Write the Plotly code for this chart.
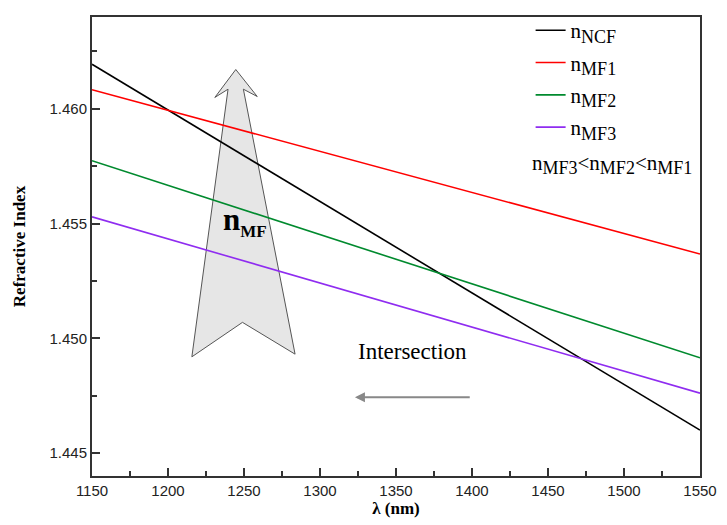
import plotly.graph_objects as go

# ---- data ----
wavelength = [1150, 1550]
n_ncf = [1.46194, 1.44600]
n_mf1 = [1.46083, 1.45367]
n_mf2 = [1.45774, 1.44915]
n_mf3 = [1.45529, 1.44761]
series_labels = ["NCF", "MF1", "MF2", "MF3"]
series_colors = ["#000000", "#ff0000", "#008a2e", "#8f2cf0"]
x_ticks = [1150, 1200, 1250, 1300, 1350, 1400, 1450, 1500, 1550]
y_ticks = [1.445, 1.450, 1.455, 1.460]


def nsub(label, size=18):
    return f"n<sub><span style='font-size:{size}px'>{label}</span></sub>"


fig = go.Figure()
for lab, vals, col in zip(series_labels, [n_ncf, n_mf1, n_mf2, n_mf3], series_colors):
    fig.add_trace(go.Scatter(x=wavelength, y=vals, mode="lines", name=nsub(lab),
                             legendgroup=lab,
                             line=dict(color=col, width=1.6)))

# big block arrow (decoration)
arrow_pts = [(1244.6, 1.461712), (1258.7, 1.460536), (1249.6, 1.460854),
             (1283.6, 1.449309), (1249.0, 1.450695), (1215.7, 1.449193),
             (1239.5, 1.460854), (1230.8, 1.460494)]
path = "M " + " L ".join(f"{x},{y}" for x, y in arrow_pts) + " Z"
fig.add_shape(type="path", path=path, xref="x", yref="y", layer="below",
              fillcolor="#e6e6e6", line=dict(color="#555555", width=1))

fig.add_annotation(x=1250.9, y=1.455073, xref="x", yref="y", showarrow=False,
                   text="<b>n<sub><span style='font-size:17px'>MF</span></sub></b>",
                   font=dict(family="Liberation Serif", size=31, color="#000"))

fig.add_annotation(x=1361.1, y=1.449408, xref="x", yref="y", showarrow=False,
                   text="Intersection",
                   font=dict(family="Liberation Serif", size=23, color="#000"))

fig.add_annotation(x=1323.0, y=1.447434, ax=1399.5, ay=1.447434,
                   xref="x", yref="y", axref="x", ayref="y", text="",
                   showarrow=True, arrowhead=2, arrowsize=1, arrowwidth=2,
                   arrowcolor="#888888")

fig.add_annotation(x=0.7198, y=0.678, xref="paper", yref="paper", xanchor="left",
                   yanchor="middle", showarrow=False,
                   text=nsub("MF3") + "&lt;" + nsub("MF2") + "&lt;" + nsub("MF1"),
                   font=dict(family="Liberation Serif", size=21, color="#000"))

axis_common = dict(showline=True, linecolor="#333333", linewidth=2, mirror=True,
                   ticks="inside", ticklen=8, tickwidth=1.5, tickcolor="#333333",
                   showgrid=False, zeroline=False,
                   tickfont=dict(family="Liberation Sans", size=15, color="#222"))

fig.update_layout(
    width=727, height=525,
    margin=dict(l=91.5, r=19.3, t=10, b=49),
    paper_bgcolor="white", plot_bgcolor="white",
    showlegend=True,
    legend=dict(x=0.7214, y=1.015, xanchor="left", yanchor="top",
                font=dict(family="Liberation Serif", size=21, color="#000"),
                bgcolor="rgba(0,0,0,0)", tracegroupgap=2, itemwidth=30),
    xaxis=dict(range=[1150, 1550], tickvals=x_ticks,
               minor=dict(dtick=25, ticks="inside", ticklen=5, tickcolor="#333333"),
               title=dict(text="<b>λ (nm)</b>", standoff=4,
                          font=dict(family="Liberation Serif", size=17, color="#000")),
               **axis_common),
    yaxis=dict(range=[1.444, 1.464], tickvals=y_ticks, tickformat=".3f",
               minor=dict(dtick=0.0025, tick0=1.4425, ticks="inside", ticklen=5, tickcolor="#333333"),
               title=dict(text="<b>Refractive Index</b>", standoff=20,
                          font=dict(family="Liberation Serif", size=17, color="#000")),
               **axis_common),
)

fig.write_html("out.html", config={"displayModeBar": False},
               post_script="document.body.style.margin='0px';document.body.style.overflow='hidden';")
